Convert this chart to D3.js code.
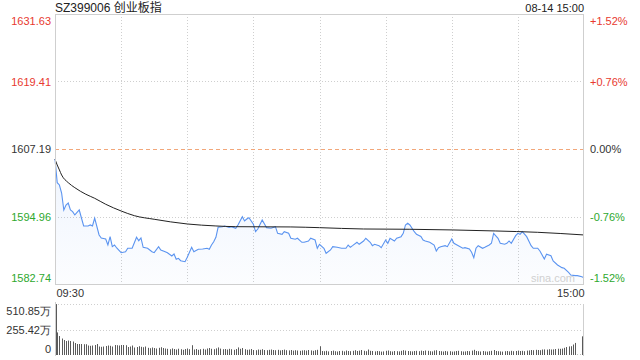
<!DOCTYPE html>
<html><head><meta charset="utf-8">
<script src="https://cdnjs.cloudflare.com/ajax/libs/d3/7.8.5/d3.min.js"></script>
<style>
html,body{margin:0;padding:0;background:#fff;}
svg{display:block;font-family:"Liberation Sans",Arial,"Noto Sans CJK SC",sans-serif;}
</style></head>
<body><svg id="c" width="640" height="360"></svg>
<script>
// ---- data ----
const title = "SZ399006 创业板指";
const stamp = "08-14 15:00";
const prevClose = 1607.19;
const priceTicks = [1631.63, 1619.41, 1607.19, 1594.96, 1582.74];
const pctTicks = ["+1.52%", "+0.76%", "0.00%", "-0.76%", "-1.52%"];
const volTicks = [510.85, 255.42, 0];
const volTickLabels = ["510.85万", "255.42万", "0"];
const timeTicks = [0, 240];
const timeLabels = ["09:30", "15:00"];
// minute index (0 = 09:30, 120 = 11:30/13:00, 240 = 15:00) and price
const priceMinutes = [0,1,2,3,4,5,6,7,8,9,11,12,13,15,16,17,18,20,21,23,24,25,26,27,28,30,32,33,35,37,38,39,40,42,44,45,47,48,50,51,53,54,55,56,57,59,60,62,63,65,67,69,70,71,72,73,74,76,77,79,80,82,83,85,86,87,88,90,91,92,94,96,98,100,101,103,104,106,107,109,110,112,113,115,116,118,119,120,122,123,125,126,128,130,132,133,134,135,137,138,140,141,143,144,145,147,148,150,151,152,154,155,157,158,159,160,161,163,164,166,167,168,170,172,173,174,175,177,178,180,181,183,185,186,188,189,190,191,192,194,195,197,198,199,201,202,204,205,206,207,209,210,211,212,214,216,217,219,220,222,223,225,226,228,230,231,233,234,236,237,239,240];
const priceValues = [1605.38,1601.09,1600.67,1599.22,1596.14,1597.05,1597.41,1596.14,1595.84,1595.24,1596.14,1594.69,1593.25,1593.25,1593.43,1593.25,1594.69,1591.62,1591.07,1590.89,1589.80,1591.31,1589.50,1589.80,1589.26,1588.41,1588.59,1589.21,1589.21,1591.20,1590.58,1591.07,1589.39,1589.21,1588.59,1588.41,1589.50,1588.90,1588.59,1588.41,1587.81,1588.17,1587.21,1587.39,1586.96,1586.78,1587.58,1589.39,1588.59,1589.03,1589.08,1589.21,1589.03,1589.80,1590.40,1591.20,1593.01,1593.12,1593.25,1592.97,1593.12,1592.83,1593.43,1594.93,1594.15,1594.51,1594.75,1593.55,1592.21,1592.70,1594.33,1592.94,1592.83,1593.12,1591.92,1591.74,1592.21,1591.92,1591.02,1590.84,1591.02,1590.29,1590.29,1590.53,1591.02,1590.71,1589.21,1589.93,1589.21,1588.30,1588.90,1589.50,1589.39,1589.21,1589.21,1589.80,1589.39,1589.68,1590.29,1589.93,1590.53,1591.02,1590.29,1589.68,1589.93,1589.68,1589.32,1590.71,1590.11,1591.02,1590.53,1591.02,1591.31,1591.92,1593.43,1593.73,1593.43,1592.21,1591.74,1591.34,1590.71,1590.53,1590.29,1589.80,1588.72,1589.32,1589.50,1589.68,1589.50,1590.89,1590.11,1589.68,1589.21,1589.32,1589.08,1588.48,1587.51,1589.21,1589.68,1589.21,1589.39,1589.80,1590.11,1591.92,1591.02,1590.11,1589.93,1590.11,1590.53,1590.11,1591.49,1591.92,1591.74,1592.21,1591.31,1589.68,1589.21,1589.21,1588.72,1587.27,1588.12,1587.87,1586.91,1586.18,1585.70,1585.59,1584.86,1584.37,1584.25,1584.25,1584.06,1583.88];
// average price line
const avgMinutes = [0,1,2,3,6,9,14,18,23,30,36,45,60,73,82,107,120,140,161,200,219,240];
const avgValues = [1605.32,1604.29,1603.39,1602.48,1601.09,1600.18,1598.99,1598.26,1597.18,1595.96,1595.11,1594.46,1593.61,1593.25,1593.12,1593.07,1592.94,1592.70,1592.65,1592.34,1592.10,1591.62];
// volume per minute (万), minute 0..240
const volumes = [510,226,190,165,150,140,145,140,135,120,110,110,110,108,108,95,92,95,100,110,85,82,85,90,95,92,85,100,98,95,100,100,98,80,85,95,75,80,88,82,78,85,72,68,75,70,65,72,78,70,65,
62,58,66,60,55,63,58,52,60,65,58,98,55,60,52,58,62,55,65,70,62,58,66,76,64,58,60,55,62,58,52,60,76,62,70,58,52,55,60,50,48,55,52,58,50,48,52,55,50,48,52,46,50,54,48,46,50,44,48,45,42,46,48,44,50,46,42,48,52,88,
40,38,42,36,40,44,38,35,40,42,36,45,40,38,42,48,40,44,50,42,38,55,42,40,36,40,38,34,36,42,45,38,35,40,38,36,42,48,44,40,38,36,40,42,38,44,40,45,42,38,36,45,48,40,38,35,40,36,38,34,36,40,42,38,35,36,40,38,44,52,40,38,35,40,36,34,38,42,50,40,
38,36,34,38,40,36,42,38,40,44,40,42,38,44,46,50,48,52,50,48,55,56,54,58,55,56,60,63,62,64,72,80,86,88,105,121,4,4,4,187];

// ---- colours ----
const RED = "#e8392f", GREEN = "#2ea82e", DARK = "#333", GRID = "#cfcfcf";

const svg = d3.select("#c");
const L = 55, R = 584, T = 14, B = 284, VT = 304, VB = 355;

const x = d3.scaleLinear().domain([0, 240]).range([L, R]);
const y = d3.scaleLinear().domain([priceTicks[4], priceTicks[0]]).range([B, T]);
const yv = d3.scaleLinear().domain([0, volTicks[0]]).range([VB, VT]);

const tickColor = (v) => v > prevClose ? RED : (v < prevClose ? GREEN : DARK);

// gradient for area
const defs = svg.append("defs");
const grad = defs.append("linearGradient").attr("id", "ag").attr("x1", 0).attr("y1", 0).attr("x2", 0).attr("y2", 1);
grad.append("stop").attr("offset", "0%").attr("stop-color", "#5b94f0").attr("stop-opacity", 0.10);
grad.append("stop").attr("offset", "100%").attr("stop-color", "#5b94f0").attr("stop-opacity", 0.02);

// title
svg.append("text").attr("x", L).attr("y", 11.5).attr("font-size", 12).attr("fill", "#222").text(title);
svg.append("text").attr("x", R).attr("y", 11.5).attr("font-size", 11).attr("fill", "#222").attr("text-anchor", "end").text(stamp);

// grid - vertical
const vLines = d3.range(1, 8).map(k => k * 30);
svg.append("g").selectAll("line").data(vLines).join("line")
  .attr("x1", d => Math.round(x(d)) + 0.5).attr("x2", d => Math.round(x(d)) + 0.5)
  .attr("y1", T).attr("y2", B)
  .attr("stroke", GRID).attr("stroke-dasharray", "1,2");
// grid - horizontal
svg.append("g").selectAll("line").data([priceTicks[1], priceTicks[3]]).join("line")
  .attr("x1", L).attr("x2", R)
  .attr("y1", d => Math.round(y(d)) + 0.5).attr("y2", d => Math.round(y(d)) + 0.5)
  .attr("stroke", GRID).attr("stroke-dasharray", "1,2");
svg.append("line").attr("x1", L).attr("x2", R)
  .attr("y1", Math.round(y(prevClose)) + 0.5).attr("y2", Math.round(y(prevClose)) + 0.5)
  .attr("stroke", "#f2a77a").attr("stroke-dasharray", "4,3");

// area + lines
const pts = priceMinutes.map((m, i) => [m, priceValues[i]]);
svg.append("path").datum(pts)
  .attr("d", d3.area().x(d => x(d[0])).y0(B).y1(d => y(d[1])))
  .attr("fill", "url(#ag)");
svg.append("path").datum(pts)
  .attr("d", d3.line().x(d => x(d[0])).y(d => y(d[1])))
  .attr("fill", "none").attr("stroke", "#5b94f0").attr("stroke-width", 1.1);
const apts = avgMinutes.map((m, i) => [m, avgValues[i]]);
svg.append("path").datum(apts)
  .attr("d", d3.line().curve(d3.curveMonotoneX).x(d => x(d[0])).y(d => y(d[1])))
  .attr("fill", "none").attr("stroke", "#222").attr("stroke-width", 1);

// frame
svg.append("rect").attr("x", L + 0.5).attr("y", T + 0.5).attr("width", R - L - 1).attr("height", B - T)
  .attr("fill", "none").attr("stroke", GRID);

// watermark
svg.append("text").attr("x", 575).attr("y", 282).attr("font-size", 11).attr("fill", "#d0d0d0")
  .attr("text-anchor", "end").text("sina.com");

// price axes
const axL = svg.append("g").attr("transform", `translate(${L},0)`)
  .call(d3.axisLeft(y).tickValues(priceTicks).tickSize(0).tickPadding(4).tickFormat(d3.format(".2f")));
const axR = svg.append("g").attr("transform", `translate(${R},0)`)
  .call(d3.axisRight(y).tickValues(priceTicks).tickSize(0).tickPadding(6).tickFormat((d, i) => pctTicks[i]));
[axL, axR].forEach(ax => {
  ax.select(".domain").remove();
  ax.selectAll("text").attr("font-size", 11).attr("font-family", null)
    .attr("fill", d => tickColor(d))
    .attr("dy", d => d === priceTicks[0] ? "0.95em" : (d === priceTicks[4] ? "-0.25em" : "0.32em"));
});

// time axis
const axT = svg.append("g").attr("transform", `translate(0,${B})`)
  .call(d3.axisBottom(x).tickValues(timeTicks).tickSize(0).tickPadding(5).tickFormat((d, i) => timeLabels[i]));
axT.select(".domain").remove();
axT.selectAll("text").attr("font-size", 11).attr("font-family", null).attr("fill", DARK)
  .attr("text-anchor", (d, i) => i === 0 ? "start" : "end")
  .attr("dx", (d, i) => i === 0 ? 1 : 0);

// volume panel
svg.append("g").selectAll("line").data([volTicks[0], volTicks[1]]).join("line")
  .attr("x1", L).attr("x2", R)
  .attr("y1", d => Math.round(yv(d)) + 0.5).attr("y2", d => Math.round(yv(d)) + 0.5)
  .attr("stroke", GRID).attr("stroke-dasharray", "1,2");
svg.append("line").attr("x1", L + 0.5).attr("x2", L + 0.5).attr("y1", VT - 2).attr("y2", VB + 1).attr("stroke", GRID);
svg.append("line").attr("x1", R - 0.5).attr("x2", R - 0.5).attr("y1", VT).attr("y2", VB + 1).attr("stroke", GRID);
svg.append("g").selectAll("rect").data(volumes).join("rect")
  .attr("x", (d, i) => Math.min(Math.round(x(i)), R - 2) + (i === 0 ? 1 : 0))
  .attr("width", 1)
  .attr("y", d => yv(d))
  .attr("height", d => VB - yv(d))
  .attr("fill", "#5a5a5a");
const axV = svg.append("g").attr("transform", `translate(${L},0)`)
  .call(d3.axisLeft(yv).tickValues(volTicks).tickSize(0).tickPadding(4).tickFormat((d, i) => volTickLabels[i]));
axV.select(".domain").remove();
axV.selectAll("text").attr("font-size", 11).attr("font-family", null).attr("fill", DARK)
  .attr("dy", d => d === volTicks[0] ? "0.95em" : (d === 0 ? "-0.2em" : "0.32em"));
</script></body></html>
